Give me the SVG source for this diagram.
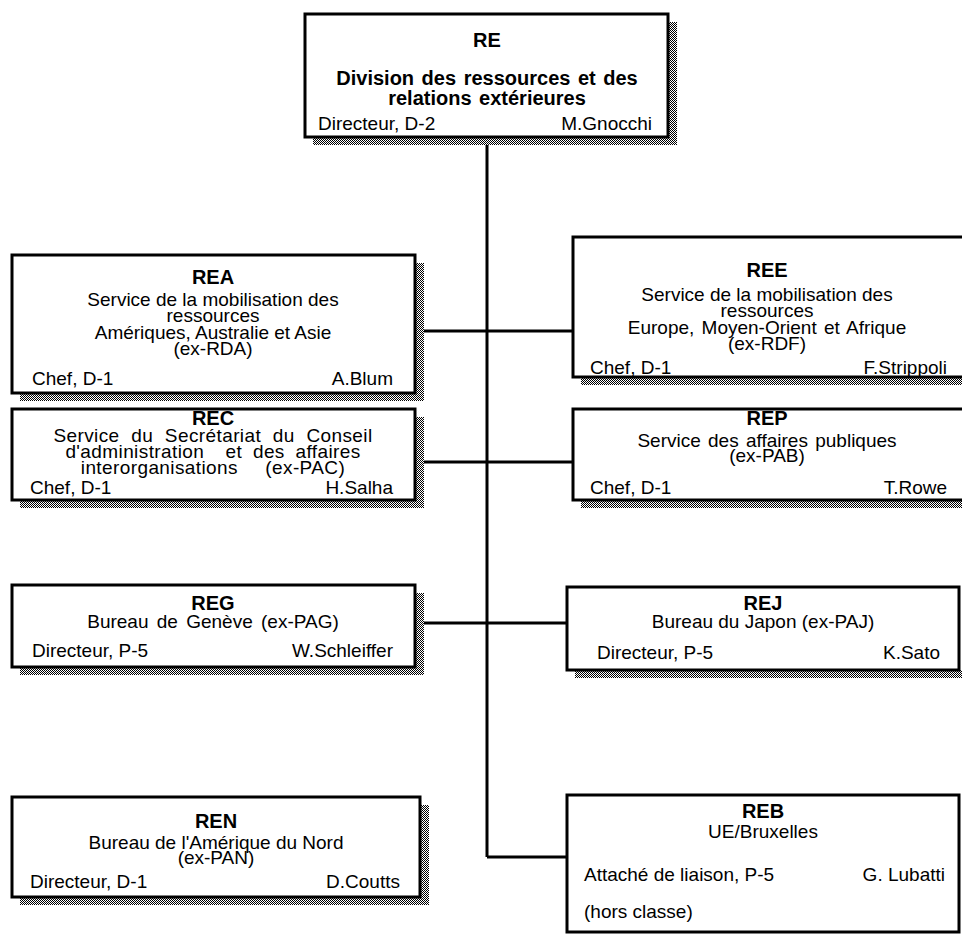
<svg xmlns="http://www.w3.org/2000/svg" width="962" height="935" viewBox="0 0 962 935">
<defs>
<pattern id="sh" width="2" height="2" patternUnits="userSpaceOnUse">
<rect width="2" height="2" fill="#fff"/>
<rect x="0" y="0" width="1" height="1" fill="#000"/>
<rect x="1" y="1" width="1" height="1" fill="#000"/>
</pattern>
</defs>
<style>
.box{fill:#fff;stroke:#000;stroke-width:3}
.shd{fill:url(#sh)}
.t{font-family:"Liberation Sans",Arial,sans-serif;font-size:19px;fill:#000}
.b{font-family:"Liberation Sans",Arial,sans-serif;font-size:20px;font-weight:bold;fill:#000}
.c{text-anchor:middle}
.e{text-anchor:end}
.ln{stroke:#000;stroke-width:3;fill:none}
</style>
<rect width="962" height="935" fill="#fff"/>
<g id="connectors">
<line class="ln" x1="487" y1="137" x2="487" y2="857"/>
<line class="ln" x1="424" y1="331" x2="573" y2="331"/>
<line class="ln" x1="424" y1="462" x2="573" y2="462"/>
<line class="ln" x1="424" y1="623" x2="567" y2="623"/>
<line class="ln" x1="487" y1="857" x2="567" y2="857"/>
</g>
<g id="RE">
<rect class="shd" x="668" y="22" width="9" height="123"/>
<rect class="shd" x="313" y="137" width="364" height="8"/>
<rect class="box" x="305" y="14" width="363" height="123"/>
<text class="b c" x="487" y="47">RE</text>
<text class="b c" x="487" y="85" style="word-spacing:2px">Division des ressources et des</text>
<text class="b c" x="487" y="105" style="word-spacing:2px">relations extérieures</text>
<text class="t" x="318" y="130">Directeur, D-2</text>
<text class="t e" x="652" y="130">M.Gnocchi</text>
</g>
<g id="REA">
<rect class="shd" x="415" y="263" width="9" height="138"/>
<rect class="shd" x="20" y="393" width="404" height="8"/>
<rect class="box" x="12" y="255" width="403" height="138"/>
<text class="b c" x="213" y="284">REA</text>
<text class="t c" x="213" y="306">Service de la mobilisation des</text>
<text class="t c" x="213" y="322">ressources</text>
<text class="t c" x="213" y="339">Amériques, Australie et Asie</text>
<text class="t c" x="213" y="355">(ex-RDA)</text>
<text class="t" x="32" y="385">Chef, D-1</text>
<text class="t e" x="393" y="385">A.Blum</text>
</g>
<g id="REE">
<rect class="shd" x="581" y="377" width="381" height="8"/>
<rect class="box" x="573" y="237" width="395" height="140"/>
<text class="b c" x="767" y="277">REE</text>
<text class="t c" x="767" y="301">Service de la mobilisation des</text>
<text class="t c" x="767" y="317">ressources</text>
<text class="t c" x="767" y="334" style="word-spacing:2px">Europe, Moyen-Orient et Afrique</text>
<text class="t c" x="767" y="350">(ex-RDF)</text>
<text class="t" x="590" y="374">Chef, D-1</text>
<text class="t e" x="947" y="374">F.Strippoli</text>
</g>
<g id="REC">
<rect class="shd" x="415" y="417" width="9" height="91"/>
<rect class="shd" x="20" y="500" width="404" height="8"/>
<rect class="box" x="12" y="409" width="403" height="91"/>
<text class="b c" x="213" y="425">REC</text>
<text class="t c" x="213" y="442" style="word-spacing:6px;letter-spacing:0.4px">Service du Secrétariat du Conseil</text>
<text class="t c" x="213" y="458" style="word-spacing:5px;letter-spacing:0.4px" xml:space="preserve">d'administration  et des affaires</text>
<text class="t c" x="213" y="474" style="word-spacing:8px;letter-spacing:0.4px" xml:space="preserve">interorganisations  (ex-PAC)</text>
<text class="t" x="30" y="494">Chef, D-1</text>
<text class="t e" x="393" y="494">H.Salha</text>
</g>
<g id="REP">
<rect class="shd" x="581" y="500" width="381" height="8"/>
<rect class="box" x="573" y="409" width="395" height="91"/>
<text class="b c" x="767" y="425">REP</text>
<text class="t c" x="767" y="447" style="word-spacing:2px">Service des affaires publiques</text>
<text class="t c" x="767" y="462">(ex-PAB)</text>
<text class="t" x="590" y="494">Chef, D-1</text>
<text class="t e" x="947" y="494">T.Rowe</text>
</g>
<g id="REG">
<rect class="shd" x="415" y="593" width="9" height="82"/>
<rect class="shd" x="20" y="667" width="404" height="8"/>
<rect class="box" x="12" y="585" width="403" height="82"/>
<text class="b c" x="213" y="610">REG</text>
<text class="t c" x="213" y="628" style="word-spacing:3px">Bureau de Genève (ex-PAG)</text>
<text class="t" x="32" y="657">Directeur, P-5</text>
<text class="t e" x="393" y="657">W.Schleiffer</text>
</g>
<g id="REJ">
<rect class="shd" x="575" y="670" width="387" height="8"/>
<rect class="box" x="567" y="587" width="392" height="83"/>
<text class="b c" x="763" y="610">REJ</text>
<text class="t c" x="763" y="628">Bureau du Japon (ex-PAJ)</text>
<text class="t" x="597" y="659">Directeur, P-5</text>
<text class="t e" x="940" y="659">K.Sato</text>
</g>
<g id="REN">
<rect class="shd" x="420" y="805" width="9" height="100"/>
<rect class="shd" x="20" y="897" width="409" height="8"/>
<rect class="box" x="12" y="797" width="408" height="100"/>
<text class="b c" x="216" y="828">REN</text>
<text class="t c" x="216" y="849">Bureau de l'Amérique du Nord</text>
<text class="t c" x="216" y="864">(ex-PAN)</text>
<text class="t" x="30" y="888">Directeur, D-1</text>
<text class="t e" x="400" y="888">D.Coutts</text>
</g>
<g id="REB">
<rect class="box" x="567" y="795" width="392" height="137"/>
<text class="b c" x="763" y="818">REB</text>
<text class="t c" x="763" y="838">UE/Bruxelles</text>
<text class="t" x="584" y="881">Attaché de liaison, P-5</text>
<text class="t e" x="945" y="881">G. Lubatti</text>
<text class="t" x="584" y="918">(hors classe)</text>
</g>
</svg>
